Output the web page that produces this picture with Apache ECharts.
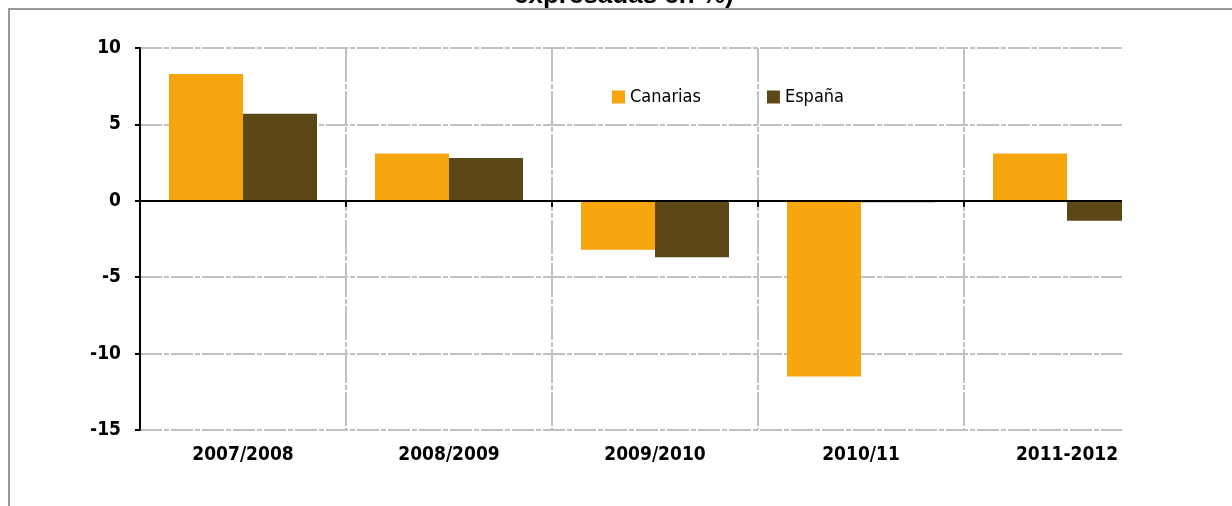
<!DOCTYPE html>
<html>
<head>
<meta charset="utf-8">
<script src="https://cdn.jsdelivr.net/npm/echarts@6/dist/echarts.min.js"></script>
<style>
  html, body { margin: 0; padding: 0; background: #fff; }
  #outer { position: relative; width: 1232px; height: 506px; overflow: hidden; }
  #frame { position: absolute; left: 8px; top: 8px; right: 0; bottom: 0; border-top: 2px solid #999; border-left: 2px solid #999; }
  #clip { position: absolute; left: 0; top: 0; width: 1122px; height: 506px; overflow: hidden; }
  #chart { position: absolute; left: 0; top: 0; width: 1232px; height: 506px; }
</style>
</head>
<body>
<div id="outer">
  <div id="frame"></div>
  <div id="clip"><div id="chart"></div></div>
</div>
<script>
const titleText = 'expresadas en %)';
const categories = ['2007/2008', '2008/2009', '2009/2010', '2010/11', '2011-2012'];
const canarias = [8.3, 3.1, -3.2, -11.5, 3.1];
const espana = [5.7, 2.8, -3.7, -0.1, -1.3];
const yTicks = { min: -15, max: 10, interval: 5 };

const FONT = '"DejaVu Sans Condensed", "DejaVu Sans", sans-serif';
const chart = echarts.init(document.getElementById('chart'), null, { renderer: 'canvas' });
chart.setOption({
  animation: false,
  backgroundColor: 'transparent',
  title: {
    text: titleText,
    left: 514,
    top: -17,
    padding: 0,
    textStyle: { fontFamily: '"Liberation Sans", Arial, sans-serif', fontWeight: 'bold', fontSize: 26, color: '#000' }
  },
  legend: {
    left: 612,
    top: 88,
    padding: 0,
    icon: 'rect',
    itemWidth: 13,
    itemHeight: 13,
    itemGap: 66,
    textStyle: { fontFamily: FONT, fontSize: 18, color: '#000' },
    data: ['Canarias', 'España']
  },
  grid: { left: 140, top: 48, width: 1030, height: 382 },
  xAxis: [
    {
      type: 'category',
      data: categories,
      position: 'bottom',
      z: 3,
      axisLine: { onZero: true, lineStyle: { color: '#000', width: 2 } },
      axisTick: { show: true, length: 6, lineStyle: { color: '#000', width: 2 } },
      axisLabel: { show: false },
      splitLine: {
        show: true,
        interval: function (index) { return index !== 0; },
        lineStyle: { color: '#c0c0c0', width: 2, type: [34, 2, 5, 2] }
      }
    },
    {
      type: 'category',
      data: categories,
      position: 'bottom',
      axisLine: { show: false, onZero: false },
      axisTick: { show: false },
      splitLine: { show: false },
      axisLabel: { show: true, margin: 16, fontFamily: FONT, fontWeight: 'bold', fontSize: 19, color: '#000' }
    }
  ],
  yAxis: {
    type: 'value',
    min: yTicks.min,
    max: yTicks.max,
    interval: yTicks.interval,
    axisLine: { show: true, onZero: false, lineStyle: { color: '#000', width: 2 } },
    axisTick: { show: true, length: 5, lineStyle: { color: '#000', width: 2 } },
    axisLabel: { margin: 19, fontFamily: FONT, fontWeight: 'bold', fontSize: 19, color: '#000' },
    splitLine: { show: true, lineStyle: { color: '#c0c0c0', width: 2, type: [22, 2, 5, 2] } }
  },
  series: [
    {
      name: 'Canarias',
      type: 'bar',
      xAxisIndex: 0,
      data: canarias,
      barWidth: 74,
      barGap: '0%',
      itemStyle: { color: '#F6A50C' }
    },
    {
      name: 'España',
      type: 'bar',
      xAxisIndex: 0,
      data: espana,
      barWidth: 74,
      barGap: '0%',
      itemStyle: { color: '#5C4716' }
    }
  ]
});
</script>
</body>
</html>
